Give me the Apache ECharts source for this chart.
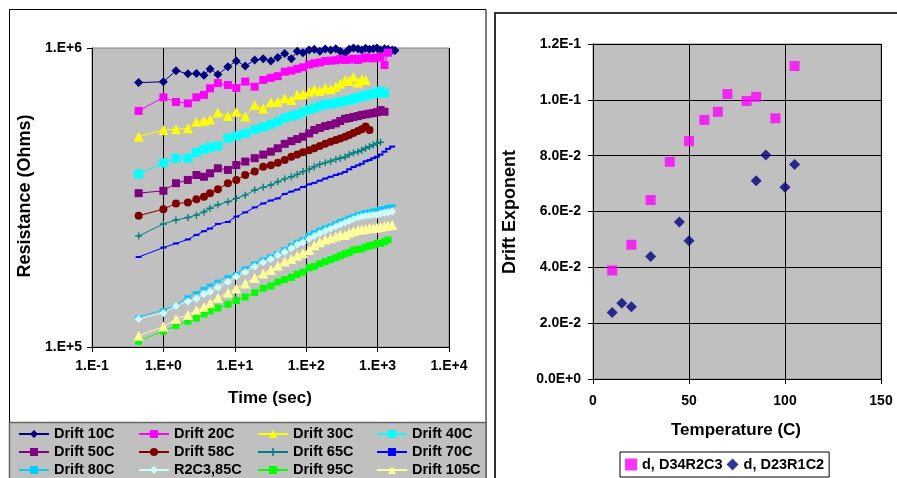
<!DOCTYPE html>
<html><head><meta charset="utf-8">
<script src="https://cdn.jsdelivr.net/npm/echarts@6/dist/echarts.min.js"></script>
<style>html,body{margin:0;padding:0;background:#fff;}#c{width:897px;height:478px;}</style>
</head><body><div id="c"></div>
<script>
// ---------- Left chart: resistance drift vs time (kOhm) ----------
const times = [0.45, 1, 1.5, 2.2, 2.9, 3.7, 4.5, 5.8, 8, 10.5, 14, 19, 25, 32, 40, 50, 62, 75, 90, 110,
  130, 155, 185, 220, 260, 300, 350, 400, 460, 530, 600, 680, 770, 870, 980, 1100, 1250, 1400, 1600, 1750];

const drift10C = [766,771,840,820,822,810,851,815,866,905,870,912,920,905,930,958,920,975,965,985,
  990,975,992,985,995,975,960,990,1000,995,985,998,990,995,1000,985,995,990,985,980];
const drift20C = [616,684,660,653,684,697,733,763,752,735,772,742,782,795,805,833,840,852,862,880,
  889,895,905,907,910,918,912,915,920,912,922,930,925,924,928,935,877,965];
const drift30C = [505,532,535,539,567,571,577,608,592,612,590,645,628,658,661,679,670,697,700,714,
  728,720,735,728,742,760,782,775,802,766,785,782];
const drift40C = [379,413,428,428,447,458,466,470,499,508,518,533,545,555,567,583,592,598,610,622,
  630,640,648,650,655,660,665,670,676,682,688,694,699,704,708,718,706];
const drift50C = [327,333,353,362,376,371,381,396,391,406,417,428,440,450,462,478,488,496,505,518,
  532,540,548,553,560,570,580,583,588,592,597,600,603,606,610,620,612];
const drift58C = [275,289,302,304,312,318,327,337,353,362,376,386,401,405,413,422,433,440,448,455,
  462,470,478,486,492,498,505,512,520,528,535,546,532];
const drift65C = [235,258,266,271,276,283,291,299,306,314,322,335,342,348,357,365,371,378,386,393,
  401,408,413,418,424,428,432,440,446,450,455,462,468,474,480,484];
const drift70C = [200,215,222,229,237,244,249,258,262,273,282,293,302,309,314,325,331,336,343,350,
  354,360,366,371,376,380,385,393,400,405,410,418,422,428,433,440,450,460,468];
const drift80C = [126,133,138,147,152,157,161,166,172,176,184,191,197,202,207,213,220,226,230,238,
  243,248,252,256,260,265,268,272,275,279,281,284,285,287,289,291,293,295,297];
const r2c3_85C = [124,130,137,142,145,150,153,158,165,172,178,186,192,197,203,208,214,220,224,230,
  235,240,245,249,253,257,261,264,268,271,273,275,276,277,277,279,281,282,284];
const drift95C = [104.5,113,118,122,125,129,132,135,139,143,147,152,157,160,165,168,171,175,178,184,
  186,190,193,196,199,202,205,207,211,212,213,216,218,219,222,222,225,228];
const drift105C = [109,117,124,128,133,136,140,146,152,157,163,170,176,181,187,193,197,202,206,211,
  219,224,229,231,234,237,237,241,244,246,247,248,250,250,251,252,254,255,256];

const timeTickLabels = ['1.E-1','1.E+0','1.E+1','1.E+2','1.E+3','1.E+4'];
const resTickLabels = {5:'1.E+5', 6:'1.E+6'};

// ---------- Right chart: drift exponent vs temperature ----------
const tempD34R2C3 = [10,20,30,40,50,58,65,70,80,85,95,105];
const expD34R2C3 = [0.0389,0.0481,0.0641,0.0778,0.0852,0.0928,0.0957,0.1021,0.0996,0.1011,0.0934,0.1121];
const tempD23R1C2 = [10,15,20,30,45,50,85,90,100,105];
const expD23R1C2 = [0.0238,0.0271,0.0259,0.0439,0.0562,0.0495,0.0710,0.0802,0.0687,0.0768];
const expTickLabels = ['0.0E+0','2.0E-2','4.0E-2','6.0E-2','8.0E-2','1.0E-1','1.2E-1'];

const FONT = '"Liberation Sans", Arial, sans-serif';
const plusPath = 'path://M4,0H6V4H10V6H6V10H4V6H0V4H4Z';

const leftDefs = [
  {name:'Drift 10C', data:drift10C, color:'#000080', symbol:'diamond', size:9},
  {name:'Drift 20C', data:drift20C, color:'#FF00FF', symbol:'rect', size:8},
  {name:'Drift 30C', data:drift30C, color:'#FFFF00', symbol:'triangle', size:10},
  {name:'Drift 40C', data:drift40C, color:'#00FFFF', symbol:'rect', size:9},
  {name:'Drift 50C', data:drift50C, color:'#800080', symbol:'rect', size:8},
  {name:'Drift 58C', data:drift58C, color:'#800000', symbol:'circle', size:8},
  {name:'Drift 65C', data:drift65C, color:'#008080', symbol:plusPath, size:7},
  {name:'Drift 70C', data:drift70C, color:'#0000FF', symbol:'rect', size:[6,2]},
  {name:'Drift 80C', data:drift80C, color:'#00CCFF', symbol:'rect', size:[7,3]},
  {name:'R2C3,85C', data:r2c3_85C, color:'#CCFFFF', symbol:'diamond', size:8},
  {name:'Drift 95C', data:drift95C, color:'#00FF00', symbol:'rect', size:7},
  {name:'Drift 105C', data:drift105C, color:'#FFFF99', symbol:'triangle', size:10}
];

const series = leftDefs.map(d => ({
  type:'line', name:d.name, xAxisIndex:0, yAxisIndex:0,
  data: d.data.map((v,i) => [times[i], v*1000]),
  symbol:d.symbol, symbolSize:d.size,
  itemStyle:{color:d.color},
  lineStyle:{color:d.color, width:1},
  animation:false
}));
series.push({
  type:'scatter', name:'d, D34R2C3', xAxisIndex:1, yAxisIndex:1,
  data: tempD34R2C3.map((t,i)=>[t, expD34R2C3[i]]),
  symbol:'rect', symbolSize:10, itemStyle:{color:'#FF00FF'}, animation:false
});
series.push({
  type:'scatter', name:'d, D23R1C2', xAxisIndex:1, yAxisIndex:1,
  data: tempD23R1C2.map((t,i)=>[t, expD23R1C2[i]]),
  symbol:'diamond', symbolSize:11, itemStyle:{color:'#000080'}, animation:false
});

const legText = {fontFamily:FONT, fontWeight:'bold', fontSize:14.5, color:'#000', lineHeight:18};
function colLegend(names, left){
  return {orient:'vertical', left:left, top:425, width:115, height:60, padding:0, itemGap:0, itemWidth:30, itemHeight:10,
    textStyle:legText, data:names, selectedMode:false};
}

const axisLbl = {fontFamily:FONT, fontWeight:'bold', fontSize:14, color:'#000'};

const option = {
  animation:false,
  backgroundColor:'#fff',
  grid:[
    {left:92, top:48, width:357, height:299, show:true, backgroundColor:'#C0C0C0', borderColor:'#808080', borderWidth:1},
    {left:593, top:44, width:288, height:335, show:true, backgroundColor:'#C0C0C0', borderColor:'#808080', borderWidth:1}
  ],
  xAxis:[
    {gridIndex:0, type:'log', logBase:10, min:0.1, max:10000,
     axisLine:{lineStyle:{color:'#000', width:1}}, axisTick:{show:true, length:5, lineStyle:{color:'#000'}},
     axisLabel:Object.assign({margin:12, formatter:v=>timeTickLabels[Math.round(Math.log10(v))+1]}, axisLbl),
     splitLine:{show:true, lineStyle:{color:'#000', width:1}}, minorTick:{show:false}},
    {gridIndex:1, type:'value', min:0, max:150, interval:50,
     axisLine:{lineStyle:{color:'#000'}}, axisTick:{show:true, length:5, lineStyle:{color:'#000'}},
     axisLabel:Object.assign({margin:15}, axisLbl),
     splitLine:{show:true, lineStyle:{color:'#000', width:1}}}
  ],
  yAxis:[
    {gridIndex:0, type:'log', logBase:10, min:100000, max:1000000,
     axisLine:{lineStyle:{color:'#000'}}, axisTick:{show:true, length:5, lineStyle:{color:'#000'}},
     axisLabel:Object.assign({margin:10, formatter:v=>resTickLabels[Math.round(Math.log10(v))]||''}, axisLbl),
     splitLine:{show:false}},
    {gridIndex:1, type:'value', min:0, max:0.12, interval:0.02,
     axisLine:{lineStyle:{color:'#000'}}, axisTick:{show:true, length:5, lineStyle:{color:'#000'}},
     axisLabel:Object.assign({margin:12, formatter:v=>expTickLabels[Math.round(v/0.02)]}, axisLbl),
     splitLine:{show:true, lineStyle:{color:'#000', width:1}}}
  ],
  legend:[
    colLegend(['Drift 10C','Drift 50C','Drift 80C'], 18),
    colLegend(['Drift 20C','Drift 58C','R2C3,85C'], 138),
    colLegend(['Drift 30C','Drift 65C','Drift 95C'], 257),
    colLegend(['Drift 40C','Drift 70C','Drift 105C'], 376),
    {orient:'horizontal', left:620, top:452, padding:[5,5,5,5], itemGap:4, itemWidth:12, itemHeight:12,
     backgroundColor:'#fff', borderColor:'#000', borderWidth:1, selectedMode:false,
     textStyle:{fontFamily:FONT, fontWeight:'bold', fontSize:14.5, color:'#000'},
     data:['d, D34R2C3','d, D23R1C2']}
  ],
  graphic:{elements:[
    {type:'rect', z:0, shape:{x:9.5, y:9.5, width:476.5, height:480}, style:{fill:'none', stroke:'#000', lineWidth:1}},
    {type:'rect', z:1, shape:{x:9.5, y:422.5, width:476.5, height:60}, style:{fill:'#C0C0C0', stroke:'#666', lineWidth:1.5}},
    {type:'rect', z:0, shape:{x:495, y:13, width:410, height:480}, style:{fill:'none', stroke:'#333', lineWidth:2}},
    {type:'text', z:5, x:270, y:398, style:{text:'Time (sec)', font:'bold 17px ' + FONT, fill:'#000', textAlign:'center', textVerticalAlign:'middle'}},
    {type:'text', z:5, x:25, y:196, rotation:Math.PI/2, style:{text:'Resistance (Ohms)', font:'bold 18px ' + FONT, fill:'#000', textAlign:'center', textVerticalAlign:'middle'}},
    {type:'text', z:5, x:736, y:430, style:{text:'Temperature (C)', font:'bold 17px ' + FONT, fill:'#000', textAlign:'center', textVerticalAlign:'middle'}},
    {type:'text', z:5, x:510, y:212, rotation:Math.PI/2, style:{text:'Drift Exponent', font:'bold 18px ' + FONT, fill:'#000', textAlign:'center', textVerticalAlign:'middle'}}
  ]},
  series:series
};

const chart = echarts.init(document.getElementById('c'), null, {renderer:'canvas'});
chart.setOption(option);
</script>
</body></html>
